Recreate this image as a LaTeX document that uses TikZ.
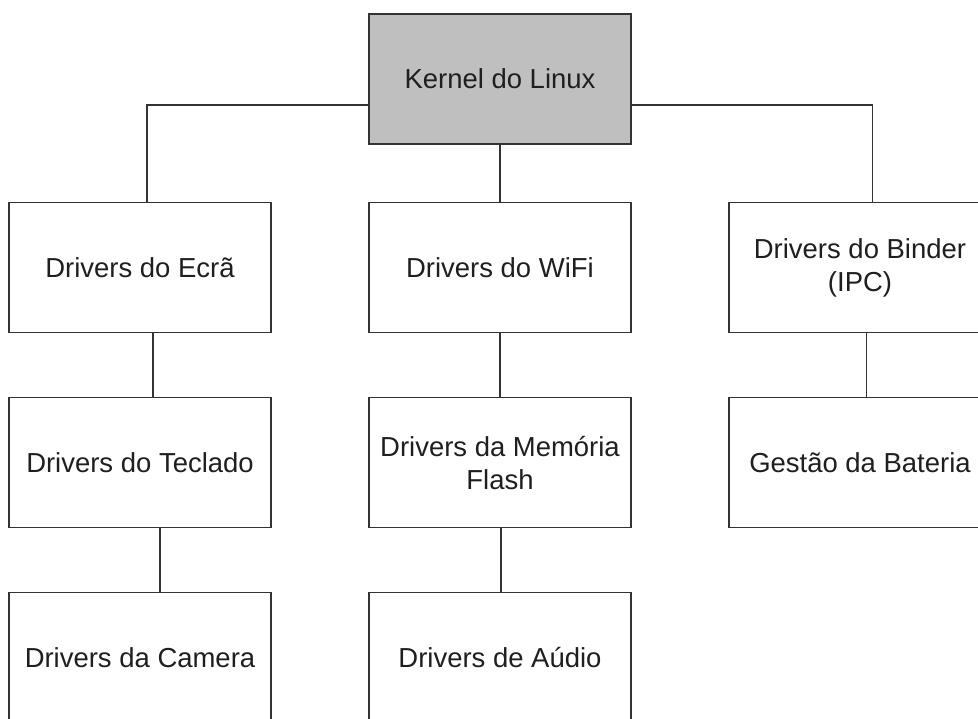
\documentclass[tikz,border=0pt]{standalone}
\usepackage{fontspec}
\setmainfont{Liberation Sans}
\begin{document}
\begin{tikzpicture}[x=0.75pt,y=-0.75pt,
  box/.style={draw=black!80, line width=1pt, minimum width=196.5pt, minimum height=97.5pt,
    inner sep=2pt, align=center, text=black!88,
    font=\fontsize{20.6pt}{24.6pt}\selectfont},
  link/.style={draw=black!80, line width=1pt}]
\clip (0,0) rectangle (978,718);
\fill[white] (0,0) rectangle (978,718);
\node[box, fill=black!25] (kernel) at (500,79) {Kernel do Linux};
\node[box] (ecra) at (140,267.5) {Drivers do Ecrã};
\node[box] (wifi) at (500,267.5) {Drivers do WiFi};
\node[box] (binder) at (860,267.5) {Drivers do Binder\\(IPC)};
\node[box] (teclado) at (140,462.7) {Drivers do Teclado};
\node[box] (memoria) at (500,462.7) {Drivers da Memória\\Flash};
\node[box] (bateria) at (860,462.7) {Gestão da Bateria};
\node[box] (camera) at (140,657.3) {Drivers da Camera};
\node[box] (audio) at (500,657.3) {Drivers de Aúdio};
\draw[link] (kernel.west |- 0,105) -| (ecra.north -| 147,0);
\draw[link] (kernel.east |- 0,105) -| (binder.north -| 872.5,0);
\draw[link] (kernel.south) -- (wifi.north);
\draw[link] (ecra.south -| 153,0) -- (teclado.north -| 153,0);
\draw[link] (teclado.south -| 160,0) -- (camera.north -| 160,0);
\draw[link] (wifi.south) -- (memoria.north);
\draw[link] (memoria.south -| 501,0) -- (audio.north -| 501,0);
\draw[link] (binder.south -| 866.7,0) -- (bateria.north -| 866.7,0);
\end{tikzpicture}
\end{document}
